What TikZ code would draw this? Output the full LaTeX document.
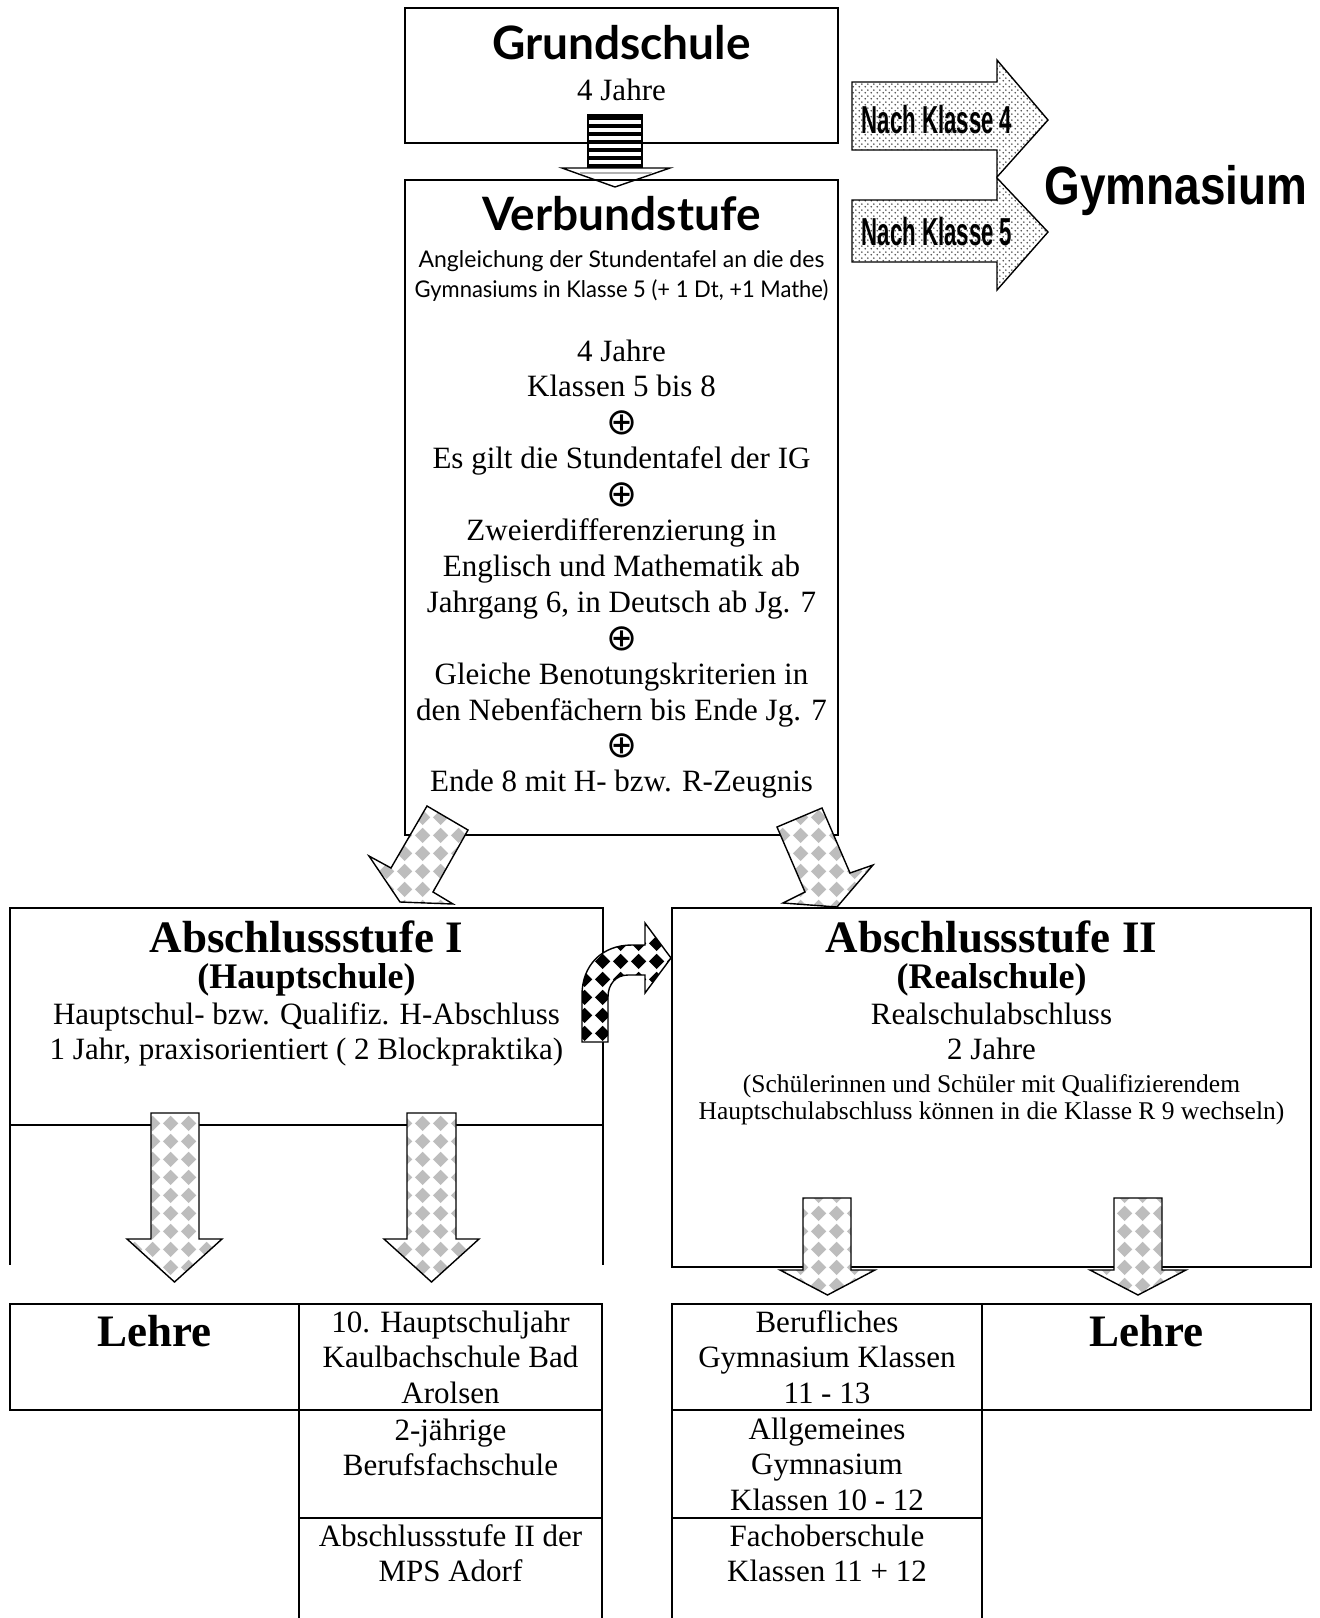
\documentclass[tikz,border=0pt]{standalone}
\usepackage{fontspec}
\setmainfont{Liberation Serif}
\newfontfamily\arialf{Liberation Sans}
\newfontfamily\comicf{Lato}
\newfontfamily\symf{DejaVu Sans}
\usetikzlibrary{patterns}
\pgfdeclarepatternformonly{diam}{\pgfqpoint{0pt}{0pt}}{\pgfqpoint{18pt}{18pt}}{\pgfqpoint{18pt}{18pt}}{%
  \pgfpathmoveto{\pgfqpoint{9pt}{1pt}}\pgfpathlineto{\pgfqpoint{17pt}{9pt}}%
  \pgfpathlineto{\pgfqpoint{9pt}{17pt}}\pgfpathlineto{\pgfqpoint{1pt}{9pt}}\pgfpathclose\pgfusepath{fill}}
\pgfdeclarepatternformonly{smalldots}{\pgfqpoint{0pt}{0pt}}{\pgfqpoint{6pt}{6pt}}{\pgfqpoint{6pt}{6pt}}{%
  \pgfpathcircle{\pgfqpoint{1.5pt}{1.5pt}}{1pt}\pgfpathcircle{\pgfqpoint{4.5pt}{4.5pt}}{1pt}\pgfusepath{fill}}
\newcommand\mlines[1]{\begin{tabular}[t]{@{}c@{}}#1\end{tabular}}
\newcommand\opl{{\symf\fontsize{37}{30}\selectfont\raisebox{-2pt}{⊕}}}
\begin{document}
\begin{tikzpicture}[x=1pt,y=-1pt,
  box/.style={draw, line width=2.5pt, rectangle, inner sep=0pt, outer sep=0pt},
  border/.style={line width=2.5pt},
  garrow/.style={draw, line width=1.4pt, line join=miter, preaction={fill=white}, pattern=diam, pattern color=black!26},
  karrow/.style={draw, line width=1.4pt, line join=miter, preaction={fill=white}, pattern=diam, pattern color=black},
  darrow/.style={draw, line width=1.4pt, line join=miter, preaction={fill=white}, pattern=smalldots, pattern color=black!70},
  txt/.style={anchor=base, inner sep=0pt},
  body/.style={txt, font=\fontsize{31}{35.9}\selectfont},
  small/.style={txt, font=\fontsize{25.5}{27}\selectfont},
  ctitle/.style={txt, font=\comicf\bfseries\fontsize{46}{46}\selectfont},
  csmall/.style={txt, font=\comicf\fontsize{23}{30}\selectfont},
  btitle/.style={txt, font=\bfseries\fontsize{45}{50}\selectfont},
  bsub/.style={txt, font=\bfseries\fontsize{36}{40}\selectfont},
  nach/.style={txt, font=\arialf\bfseries\fontsize{39}{39}\selectfont}
]
\useasboundingbox (0,0) rectangle (1320,1618);

% Grundschule
\node[box, minimum width=433pt, minimum height=135pt] (grund) at (621.5,75.5) {};
\node[ctitle] (grundT) at (621.5,59) {Grundschule};
\node[body] (grundJ) at (621.5,100) {4 Jahre};

% striped arrow
\fill[black] (588,115) rectangle (642,168);
\foreach \yy in {122,130,138,146,154,162} \draw[white, line width=3.8pt] (588,\yy) -- (642,\yy);
\draw[line width=1.4pt] (588,115) rectangle (642,168);
\filldraw[fill=white, line width=1.4pt, line join=miter] (562,168) -- (670,168) -- (615,187) -- cycle;
\draw[black!30, line width=2pt] (580,173) -- (652,173);

% Verbundstufe
\node[box, minimum width=433pt, minimum height=655pt] (verb) at (621.5,507.5) {};
\node[ctitle] (verbT) at (621.5,230) {Verbundstufe};
\node[csmall] (verbS) at (621.5,267) {\mlines{Angleichung der Stundentafel an die des\\\scalebox{0.955}[1]{Gymnasiums in Klasse 5 (+ 1 Dt, +1 Mathe)}}};
\node[body] (verbB) at (621.5,361) {\mlines{4 Jahre\\Klassen 5 bis 8\\\opl\\Es gilt die Stundentafel der IG\\\opl\\Zweierdifferenzierung in\\Englisch und Mathematik ab\\Jahrgang 6, in Deutsch ab Jg. 7\\\opl\\Gleiche Benotungskriterien in\\den Nebenf\"achern bis Ende Jg. 7\\\opl\\Ende 8 mit H- bzw. R-Zeugnis}};

% Nach Klasse arrows and Gymnasium
\path[darrow] (852,82) -- (997,82) -- (997,60) -- (1048,120) -- (997,177) -- (997,150) -- (852,150) -- cycle;
\path[darrow] (852,200) -- (997,200) -- (997,178) -- (1048,232) -- (997,290) -- (997,262) -- (852,262) -- cycle;
\node[nach] (nk4) at (937,133) {\scalebox{0.57}[1]{Nach Klasse 4}};
\node[nach] (nk5) at (937,245) {\scalebox{0.57}[1]{Nach Klasse 5}};
\node[txt, font=\arialf\bfseries\fontsize{54}{54}\selectfont] (gym) at (1176,204) {\scalebox{0.85}[1]{Gymnasium}};

% Abschlussstufe I
\node[box, minimum width=593pt, minimum height=217pt] (ab1) at (306.5,1016.5) {};
\draw[border] (ab1.south west) -- ++(0,140);
\draw[border] (ab1.south east) -- ++(0,140);
\node[btitle] (ab1T) at (306.5,952) {Abschlussstufe I};
\node[bsub] (ab1S) at (306.5,988) {(Hauptschule)};
\node[body] (ab1B) at (306.5,1024) {\mlines{Hauptschul- bzw. Qualifiz. H-Abschluss\\1 Jahr, praxisorientiert ( 2 Blockpraktika)}};

% Abschlussstufe II
\node[box, minimum width=639pt, minimum height=359pt] (ab2) at (991.5,1087.5) {};
\node[btitle] (ab2T) at (991.5,952) {Abschlussstufe II};
\node[bsub] (ab2S) at (991.5,988) {(Realschule)};
\node[body] (ab2B) at (991.5,1024) {\mlines{Realschulabschluss\\2 Jahre}};
\node[small] (ab2s) at (991.5,1092) {\mlines{(Sch\"ulerinnen und Sch\"uler mit Qualifizierendem\\Hauptschulabschluss k\"onnen in die Klasse R 9 wechseln)}};

% diagonal arrows from Verbundstufe
\path[garrow] (427,806) -- (468,830) -- (433,892) -- (453,904) -- (400,902) -- (369,856) -- (391,868) -- cycle;
\path[garrow] (777,827) -- (822,808) -- (850,873) -- (873,865) -- (837,907) -- (783,903) -- (805,892) -- cycle;

% curved checkered arrow
\path[karrow] (582,1042) -- (582,995) .. controls (582,965) and (602,945) .. (632,945) -- (645,945) -- (645,923) -- (671,958) -- (645,993) -- (645,975) -- (628,975) .. controls (616,975) and (608,984) .. (608,997) -- (608,1042) -- cycle;

% bottom tables, left
\node[box, minimum width=289pt, minimum height=106pt] (lehre1) at (154.5,1357) {};
\node[box, minimum width=303pt, minimum height=106pt] (hs10) at (450.5,1357) {};
\draw[border] (hs10.south west) -- (299,1618);
\draw[border] (hs10.south east) -- (602,1618);
\draw[border] (299,1518) -- (602,1518);
\node[btitle] (lehre1T) at (154.5,1346) {Lehre};
\node[body] (hs10T) at (450.5,1332) {\mlines{10. Hauptschuljahr\\Kaulbachschule Bad\\Arolsen}};
\node[body] (bfsT) at (450.5,1440) {\mlines{2-j\"ahrige\\Berufsfachschule}};
\node[body] (mpsT) at (450.5,1546) {\mlines{Abschlussstufe II der\\MPS Adorf}};

% bottom tables, right
\node[box, minimum width=310pt, minimum height=106pt] (bgym) at (827,1357) {};
\node[box, minimum width=329pt, minimum height=106pt] (lehre2) at (1146.5,1357) {};
\draw[border] (bgym.south west) -- (672,1618);
\draw[border] (bgym.south east) -- (982,1618);
\draw[border] (672,1518) -- (982,1518);
\node[btitle] (lehre2T) at (1146.5,1346) {Lehre};
\node[body] (bgymT) at (827,1332) {\mlines{Berufliches\\Gymnasium Klassen\\11 - 13}};
\node[body] (agymT) at (827,1439) {\mlines{Allgemeines\\Gymnasium\\Klassen 10 - 12}};
\node[body] (fosT) at (827,1546) {\mlines{Fachoberschule\\Klassen 11 + 12}};

% down arrows
\path[garrow] (151,1113) -- (199,1113) -- (199,1239) -- (222,1239) -- (174.5,1282) -- (127,1239) -- (151,1239) -- cycle;
\path[garrow] (407,1113) -- (456,1113) -- (456,1239) -- (479,1239) -- (431.5,1282) -- (384,1239) -- (407,1239) -- cycle;
\path[garrow] (803,1198) -- (851,1198) -- (851,1270) -- (875,1270) -- (827.5,1295) -- (780,1270) -- (803,1270) -- cycle;
\path[garrow] (1114,1198) -- (1162,1198) -- (1162,1270) -- (1186,1270) -- (1138,1295) -- (1090,1270) -- (1114,1270) -- cycle;
\end{tikzpicture}
\end{document}
